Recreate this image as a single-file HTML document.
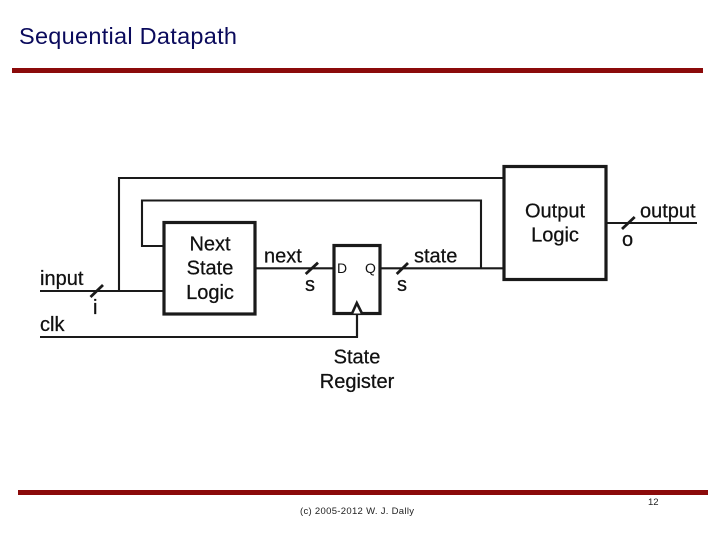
<!DOCTYPE html>
<html><head><meta charset="utf-8">
<style>
html,body{margin:0;padding:0;background:#fff;width:720px;height:540px;overflow:hidden}
svg{display:block;filter:blur(0.3px)}
text{font-family:"Liberation Sans",Arial,sans-serif;fill:#111}
.d text{stroke:#111;stroke-width:.25px}
</style></head>
<body>
<svg width="720" height="540" viewBox="0 0 720 540" xmlns="http://www.w3.org/2000/svg">
<text x="19" y="44" font-size="23.500" textLength="218" lengthAdjust="spacing" style="fill:#0a0a5c">Sequential Datapath</text>
<rect x="12" y="68" width="691" height="5" fill="#8b0a0a"/>
<rect x="18" y="490" width="690" height="5" fill="#8b0a0a"/>
<text x="300" y="514" font-size="9.500" textLength="114" style="fill:#222">(c) 2005-2012 W. J. Dally</text>
<text x="648" y="505" font-size="9.500" style="fill:#222">12</text>

<g fill="none" stroke="#1a1a1a" stroke-width="2.100">
<path d="M40 291H164"/>
<path d="M119 291V178H504"/>
<path d="M164 246H142V200.500H481V268"/>
<path d="M40 337H357V314"/>
<path d="M255 268.300H334"/>
<path d="M380 268.300H504"/>
<path d="M606 223H697"/>
</g>
<g fill="none" stroke="#1a1a1a" stroke-width="2.800">
<path d="M90.500 297L103 285"/>
<path d="M305.700 274L318 262.700"/>
<path d="M396.700 274L408 263"/>
<path d="M622 229L634.700 217"/>
</g>
<g fill="#fff" stroke="#1a1a1a" stroke-width="3.200">
<rect x="164" y="222.500" width="91" height="91.500"/>
<rect x="504" y="166.500" width="102" height="113"/>
<rect x="334" y="245.500" width="46" height="68"/>
</g>
<path d="M352 313.500L356.800 303L362 313.500" fill="#fff" stroke="#1a1a1a" stroke-width="2.600"/>
<path d="M357 314V337" stroke="#1a1a1a" stroke-width="2.100"/>

<g font-size="20" class="d">
<text x="210" y="250.500" text-anchor="middle">Next</text>
<text x="210" y="274.500" text-anchor="middle">State</text>
<text x="210" y="299" text-anchor="middle">Logic</text>
<text x="555" y="217.500" text-anchor="middle">Output</text>
<text x="555" y="241.500" text-anchor="middle">Logic</text>
<text x="357" y="363.500" text-anchor="middle">State</text>
<text x="357" y="388" text-anchor="middle">Register</text>
<text x="40" y="285">input</text>
<text x="40" y="331">clk</text>
<text x="264" y="262.500">next</text>
<text x="414" y="262.500">state</text>
<text x="640" y="217.500">output</text>
<text x="305" y="291">s</text>
<text x="397" y="291">s</text>
<text x="622" y="246">o</text>
<text x="93" y="314">i</text>
</g>
<g font-size="14">
<text x="337" y="273">D</text>
<text x="365" y="273">Q</text>
</g>
</svg>
</body></html>
